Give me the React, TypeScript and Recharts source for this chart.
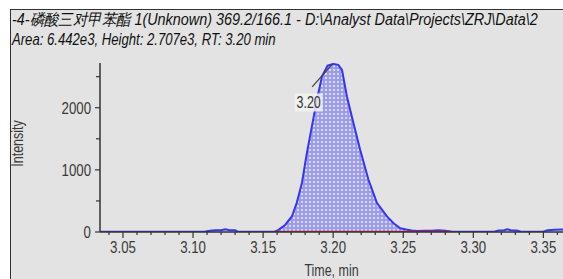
import React from 'react';
import { ComposedChart, Line, Area, XAxis, YAxis, ReferenceLine, ReferenceDot } from 'recharts';

// trace: time (min) / intensity (cps)
const traceTimes = [
  3.034, 3.05, 3.07, 3.09, 3.108, 3.112, 3.116, 3.12, 3.123, 3.126, 3.13, 3.132, 3.145, 3.158,
  3.1607, 3.1657, 3.1705, 3.174, 3.1777, 3.1812, 3.1848, 3.1884, 3.192, 3.196, 3.2, 3.2036,
  3.2063, 3.2098, 3.2145, 3.2193, 3.2252, 3.2312, 3.2384, 3.2431, 3.2479, 3.252, 3.256, 3.26,
  3.265, 3.27, 3.275, 3.28, 3.285, 3.3, 3.315, 3.318, 3.322, 3.324, 3.327, 3.331, 3.334, 3.345,
  3.35, 3.353, 3.358, 3.364,
];
const traceValues = [
  5, 5, 5, 5, 5, 20, 30, 30, 45, 30, 28, 5, 5, 5,
  30, 113, 250, 470, 790, 1270, 1700, 2130, 2505, 2680, 2705, 2690,
  2610, 2180, 1750, 1320, 840, 470, 250, 140, 60, 40, 25, 15,
  22, 20, 28, 20, 5, 5, 5, 25, 30, 45, 30, 25, 5, 5,
  5, 30, 38, 40,
];

// integrated peak region and its baseline
const peakStart = 3.1607;
const peakEnd = 3.256;
const baselineTimes = [3.1586, 3.2836];
const baselineValues = [3, 3];

const xMajorTicks = [3.05, 3.1, 3.15, 3.2, 3.25, 3.3, 3.35];
const xMajorLabels = ['3.05', '3.10', '3.15', '3.20', '3.25', '3.30', '3.35'];
const xMinorTicks = [
  3.04, 3.06, 3.07, 3.08, 3.09, 3.11, 3.12, 3.13, 3.14, 3.16, 3.17, 3.18, 3.19, 3.21, 3.22,
  3.23, 3.24, 3.26, 3.27, 3.28, 3.29, 3.31, 3.32, 3.33, 3.34, 3.36,
];
const yMajorTicks = [0, 1000, 2000];
const yMinorTicks = [500, 1500, 2500];

const peakLabel = '3.20';
const peakApex = { t: 3.1993, v: 2700 };
const leaderEnd = { t: 3.185, v: 2335 };
const labelAt = { t: 3.1825, v: 2085 };

const titleLine1 = '-4-磷酸三对甲苯酯 1(Unknown) 369.2/166.1 - D:\\Analyst Data\\Projects\\ZRJ\\Data\\2';
const titleLine2 = 'Area: 6.442e3, Height: 2.707e3, RT: 3.20 min';

const trace = traceTimes.map((t, i) => ({ t, v: traceValues[i] }));
const peak = trace.filter((p) => p.t >= peakStart && p.t <= peakEnd);
const baseline = baselineTimes.map((t, i) => ({ t, v: baselineValues[i] }));

const FONT = '"Liberation Sans", Arial, sans-serif';
const TEXT = '#3a3a3a';
const NARROW = 0.78;

function NarrowText({ x, y, anchor, size, children, rotate = 0, fill = TEXT }: any) {
  const tf = rotate
    ? `translate(${x},${y}) rotate(${rotate}) scale(${NARROW},1)`
    : `translate(${x},${y}) scale(${NARROW},1)`;
  return (
    <text transform={tf} x={0} y={0} textAnchor={anchor} fontSize={size} fontFamily={FONT} fill={fill}>
      {children}
    </text>
  );
}

function XTick(props: any) {
  const { x, y, payload } = props;
  const idx = xMajorTicks.findIndex((m) => Math.abs(m - payload.value) < 1e-6);
  const major = idx >= 0;
  return (
    <g>
      <line x1={x} y1={y} x2={x} y2={y + (major ? 6 : 3)} stroke="#333" strokeWidth={1.2} />
      {major && (
        <NarrowText x={x} y={y + 21} anchor="middle" size={17}>
          {xMajorLabels[idx]}
        </NarrowText>
      )}
    </g>
  );
}

function YTick(props: any) {
  const { x, y, payload } = props;
  const major = yMajorTicks.includes(payload.value);
  return (
    <g>
      <line x1={x} y1={y} x2={x - (major ? 5 : 4)} y2={y} stroke="#333" strokeWidth={1.2} />
      {major && (
        <NarrowText x={x - 9} y={y + 6} anchor="end" size={17}>
          {payload.value}
        </NarrowText>
      )}
    </g>
  );
}

function PeakTag(props: any) {
  const { cx, cy } = props;
  return (
    <g>
      <rect x={cx - 14} y={cy - 9} width={28} height={18} fill="#f2f2f2" opacity={0.85} />
      <NarrowText x={cx} y={cy + 6} anchor="middle" size={16} fill="#333">
        {peakLabel}
      </NarrowText>
    </g>
  );
}

function YTitle(props: any) {
  const { viewBox } = props;
  const cy = viewBox.y + viewBox.height / 2 - 4;
  return (
    <NarrowText x={viewBox.x + 23} y={cy} anchor="middle" size={16} rotate={-90}>
      Intensity
    </NarrowText>
  );
}

function XTitle(props: any) {
  const { viewBox } = props;
  return (
    <NarrowText x={viewBox.x + viewBox.width / 2} y={276} anchor="middle" size={16}>
      Time, min
    </NarrowText>
  );
}

export default function App() {
  return (
    <div style={{ position: 'absolute', left: 0, top: 0, width: 563, height: 279, background: '#fff', overflow: 'hidden' }}>
      <div
        style={{
          position: 'absolute',
          left: 10,
          top: 9,
          width: 560,
          height: 280,
          background: '#e3e3e3',
          borderLeft: '1.5px solid #333',
          borderTop: '1.5px solid #333',
        }}
      />
      <div
        style={{
          position: 'absolute',
          left: 12,
          top: 10,
          whiteSpace: 'nowrap',
          fontFamily: FONT,
          fontStyle: 'italic',
          fontSize: 16,
          lineHeight: '20px',
          color: '#111',
        }}
      >
        <div style={{ transform: 'scaleX(0.9)', transformOrigin: 'left' }}>{titleLine1}</div>
        <div style={{ transform: 'scaleX(0.82)', transformOrigin: 'left' }}>{titleLine2}</div>
      </div>
      <div style={{ position: 'absolute', left: 0, top: 0 }}>
        <ComposedChart width={563} height={279} margin={{ top: 63, right: 0, bottom: 0, left: 0 }}>
          <defs>
            <pattern id="dots" width="4" height="4" patternUnits="userSpaceOnUse">
              <rect width="4" height="4" fill="#9c9ce8" />
              <circle cx="2" cy="2" r="1.1" fill="#e6e6fb" />
            </pattern>
          </defs>
          <XAxis
            type="number"
            dataKey="t"
            domain={[3.0336, 3.364]}
            allowDataOverflow
            ticks={[...xMajorTicks, ...xMinorTicks].sort((a, b) => a - b)}
            interval={0}
            tick={<XTick />}
            tickLine={false}
            tickSize={0}
            tickMargin={0}
            height={47}
            axisLine={{ stroke: '#333', strokeWidth: 1.5 }}
            label={<XTitle />}
          />
          <YAxis
            type="number"
            dataKey="v"
            domain={[0, 2720]}
            allowDataOverflow
            ticks={[...yMajorTicks, ...yMinorTicks].sort((a, b) => a - b)}
            interval={0}
            tick={<YTick />}
            tickLine={false}
            tickSize={0}
            tickMargin={0}
            width={100}
            axisLine={{ stroke: '#333', strokeWidth: 1.5 }}
            label={<YTitle />}
          />
          <Area
            data={peak}
            dataKey="v"
            type="linear"
            stroke="none"
            fill="url(#dots)"
            fillOpacity={1}
            baseValue={0}
            isAnimationActive={false}
          />
          <Line
            data={trace}
            dataKey="v"
            type="linear"
            stroke="#3535f2"
            strokeWidth={2}
            dot={false}
            isAnimationActive={false}
          />
          <Line
            data={baseline}
            dataKey="v"
            type="linear"
            stroke="#f01818"
            strokeWidth={2}
            dot={false}
            isAnimationActive={false}
          />
          <ReferenceLine
            segment={[
              { x: peakApex.t, y: peakApex.v },
              { x: leaderEnd.t, y: leaderEnd.v },
            ]}
            stroke="#444"
            strokeWidth={1.2}
            ifOverflow="visible"
          />
          <ReferenceDot x={labelAt.t} y={labelAt.v} r={1} ifOverflow="visible" shape={<PeakTag />} />
        </ComposedChart>
      </div>
    </div>
  );
}
